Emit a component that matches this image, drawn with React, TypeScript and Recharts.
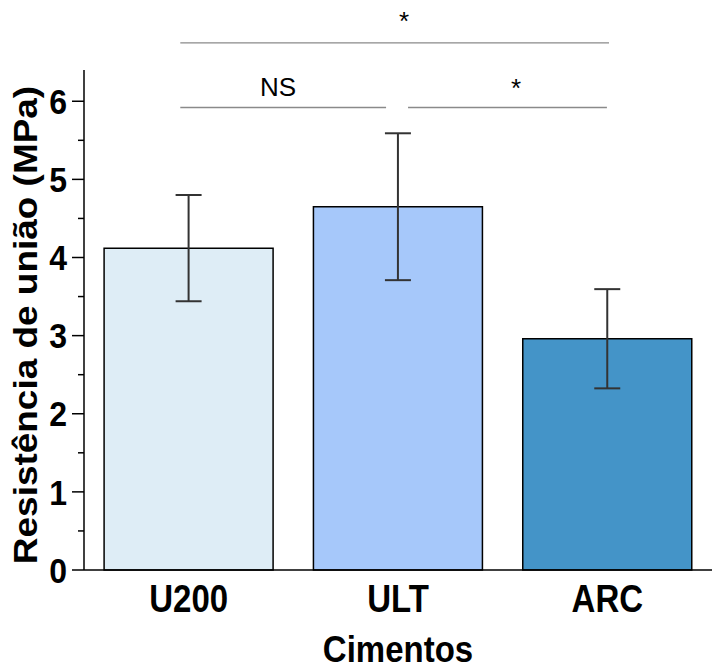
import { BarChart, Bar, Cell, XAxis, YAxis, ErrorBar, ReferenceLine, ReferenceDot } from 'recharts'

const categories = ['U200', 'ULT', 'ARC']
const means = [4.12, 4.65, 2.96]
const errors = [0.68, 0.94, 0.635]
const fills = ['#deedf6', '#a6c8fa', '#4494c8']
const yTicks = [0, 0.5, 1, 1.5, 2, 2.5, 3, 3.5, 4, 4.5, 5, 5.5, 6]

// significance brackets: x in category-index units (U200 = 0), y in MPa
const bracketLines = [
  { x1: -0.04, x2: 2.008, y: 6.746 },
  { x1: -0.04, x2: 0.943, y: 5.92 },
  { x1: 1.048, x2: 1.998, y: 5.92 },
]
const bracketLabels = [
  { x: 1.029, y: 7.03, text: '*', size: 26 },
  { x: 0.427, y: 6.18, text: 'NS', size: 26 },
  { x: 1.564, y: 6.17, text: '*', size: 26 },
]

const data = categories.map((name, i) => ({ name, pos: i, mean: means[i], err: errors[i] }))

const FONT = '"Liberation Sans", Arial, sans-serif'

function YTick(props: any) {
  const { x, y, payload } = props
  const major = Number.isInteger(payload.value)
  return (
    <g>
      <line x1={x - (major ? 12 : 6)} x2={x} y1={y} y2={y} stroke="#000" strokeWidth={1.5} />
      {major && (
        <text
          transform={`translate(${x - 17},${y}) scale(1,1.1)`}
          y={11.5}
          textAnchor="end"
          fontFamily={FONT}
          fontWeight="bold"
          fontSize={32}
          fill="#000"
        >
          {payload.value}
        </text>
      )}
    </g>
  )
}

function XTick(props: any) {
  const { x, y, payload } = props
  return (
    <text
      transform={`translate(${x},${y + 42}) scale(1,1.15)`}
      textAnchor="middle"
      fontFamily={FONT}
      fontWeight="bold"
      fontSize={33}
      fill="#000"
    >
      {payload.value}
    </text>
  )
}

function YLabel(props: any) {
  const vb = props.viewBox || { x: 0, y: 70, width: 84, height: 500 }
  const cx = vb.x + 37
  const cy = vb.y + vb.height / 2 + 5
  return (
    <text
      transform={`translate(${cx},${cy}) rotate(-90) scale(1.12,1)`}
      textAnchor="middle"
      fontFamily={FONT}
      fontWeight="bold"
      fontSize={33}
      fill="#000"
    >
      Resistência de união (MPa)
    </text>
  )
}

function XLabel(props: any) {
  const vb = props.viewBox || { x: 84, y: 570, width: 628, height: 98 }
  return (
    <text
      transform={`translate(${vb.x + vb.width / 2},${vb.y + 92}) scale(1,1.12)`}
      textAnchor="middle"
      fontFamily={FONT}
      fontWeight="bold"
      fontSize={33}
      fill="#000"
    >
      Cimentos
    </text>
  )
}

export default function App() {
  return (
    <div style={{ position: 'absolute', left: 0, top: 0, background: '#fff' }}>
      <BarChart
        width={712}
        height={668}
        data={data}
        margin={{ top: 70, right: 0, bottom: 0, left: 0 }}
        barCategoryGap="9.6%"
      >
        <XAxis
          dataKey="name"
          height={98}
          axisLine={{ stroke: '#000', strokeWidth: 1.5 }}
          tickLine={false}
          tickSize={0}
          tickMargin={0}
          tick={<XTick />}
          label={{ content: <XLabel /> }}
        />
        <XAxis
          xAxisId="ann"
          dataKey="pos"
          type="number"
          domain={[-0.5, 2.5]}
          allowDataOverflow
          hide
        />
        <YAxis
          width={84}
          domain={[0, 6.4]}
          ticks={yTicks}
          interval={0}
          axisLine={{ stroke: '#000', strokeWidth: 1.5 }}
          tickLine={false}
          tickSize={0}
          tickMargin={0}
          tick={<YTick />}
          label={{ content: <YLabel /> }}
        />
        <Bar dataKey="mean" stroke="#000" strokeWidth={1.5} isAnimationActive={false}>
          {data.map((d, i) => (
            <Cell key={d.name} fill={fills[i]} />
          ))}
          <ErrorBar dataKey="err" width={13} stroke="#333" strokeWidth={2} isAnimationActive={false} />
        </Bar>
        {bracketLines.map((l, i) => (
          <ReferenceLine
            key={'l' + i}
            xAxisId="ann"
            segment={[
              { x: l.x1, y: l.y },
              { x: l.x2, y: l.y },
            ]}
            stroke="#8a8a8a"
            strokeWidth={1.3}
            ifOverflow="visible"
          />
        ))}
        {bracketLabels.map((t, i) => (
          <ReferenceDot
            key={'t' + i}
            xAxisId="ann"
            x={t.x}
            y={t.y}
            r={0}
            stroke="none"
            fill="none"
            ifOverflow="visible"
            label={{
              value: t.text,
              position: 'center',
              fontSize: t.size,
              fontFamily: FONT,
              fill: '#000',
            }}
          />
        ))}
      </BarChart>
    </div>
  )
}
